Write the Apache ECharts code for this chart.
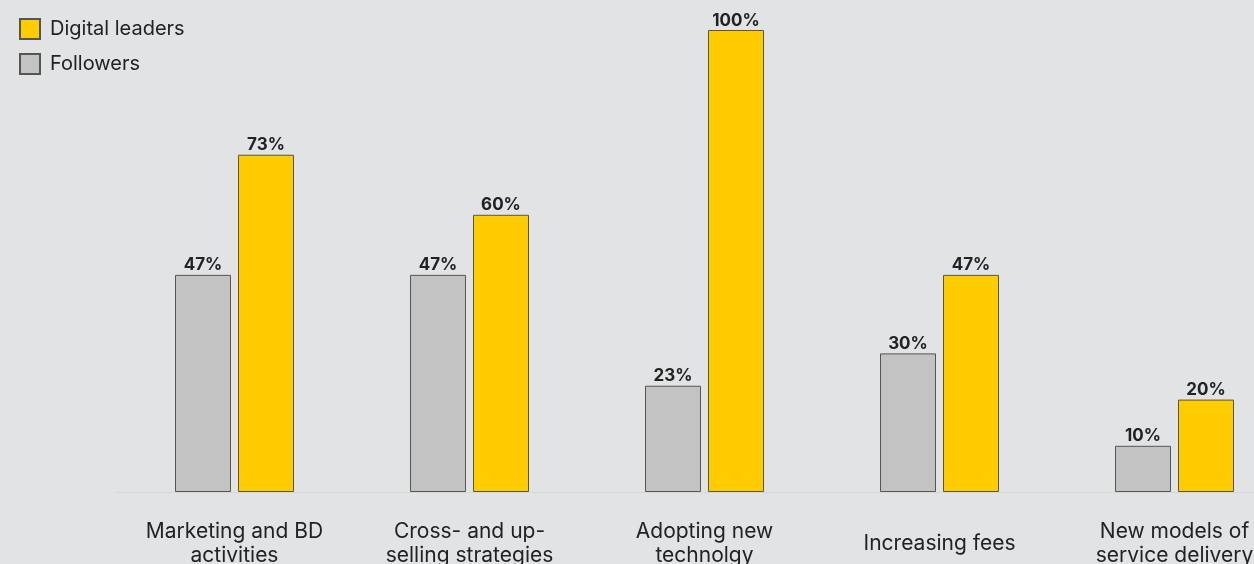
<!DOCTYPE html>
<html>
<head>
<meta charset="utf-8">
<style>
  html, body { margin: 0; padding: 0; background: #e2e3e5; }
  #chart { width: 1254px; height: 564px; }
</style>
<script src="https://cdn.jsdelivr.net/npm/echarts@6/dist/echarts.min.js"></script>
</head>
<body>
<div id="chart"></div>
<script>
// Share of firms naming each area (percent)
const categories = [
  'Marketing and BD\nactivities',
  'Cross- and up-\nselling strategies',
  'Adopting new\ntechnolgy',
  'Increasing fees',
  'New models of\nservice delivery'
];
const followers = [47, 47, 23, 30, 10];
const digitalLeaders = [73, 60, 100, 47, 20];

const chart = echarts.init(document.getElementById('chart'));

const barLabel = {
  show: true,
  position: 'top',
  distance: 1,
  formatter: '{c}%',
  color: '#222',
  fontFamily: 'Inter',
  fontWeight: 700,
  fontSize: 17
};

chart.setOption({
  backgroundColor: '#e2e3e5',
  animation: false,
  legend: {
    orient: 'vertical',
    left: 14,
    top: 13,
    itemWidth: 20,
    itemHeight: 20,
    itemGap: 13,
    icon: 'rect',
    data: ['Digital leaders', 'Followers'],
    textStyle: {
      color: '#222',
      fontFamily: 'Inter',
      fontSize: 20,
      padding: [0, 0, 0, 5]
    }
  },
  grid: {
    left: 117,
    right: -38,
    top: 30,
    bottom: 72,
    containLabel: false,
    outerBoundsMode: 'none'
  },
  xAxis: {
    type: 'category',
    data: categories,
    axisTick: { show: false },
    axisLine: { show: true, lineStyle: { color: '#d6d8d2', width: 1 } },
    axisLabel: {
      interval: 0,
      margin: 52,
      verticalAlign: 'middle',
      color: '#222',
      fontFamily: 'Inter',
      fontSize: 21,
      lineHeight: 24
    }
  },
  yAxis: {
    type: 'value',
    min: 0,
    max: 100,
    show: false
  },
  series: [
    {
      name: 'Followers',
      type: 'bar',
      data: followers,
      barWidth: 56,
      barGap: '12.5%',
      itemStyle: { color: '#c3c3c3', borderColor: '#555', borderWidth: 1 },
      label: barLabel
    },
    {
      name: 'Digital leaders',
      type: 'bar',
      data: digitalLeaders,
      barWidth: 56,
      barGap: '12.5%',
      itemStyle: { color: '#ffcc00', borderColor: '#555', borderWidth: 1 },
      label: barLabel
    }
  ]
});
</script>
</body>
</html>
